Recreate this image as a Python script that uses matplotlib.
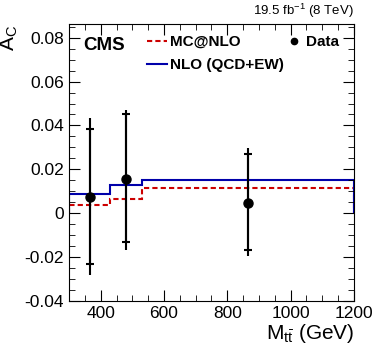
import numpy as np
import matplotlib.pyplot as plt
from matplotlib.ticker import MultipleLocator
from matplotlib.lines import Line2D

plt.rcParams['font.family'] = ['Liberation Sans', 'DejaVu Sans']
plt.rcParams['mathtext.fontset'] = 'custom'
plt.rcParams['mathtext.rm'] = 'Liberation Sans'
plt.rcParams['mathtext.it'] = 'Liberation Sans'

# data points
mass = [366, 481, 865]
ac = [0.0075, 0.0155, 0.0048]
stat_up = [0.0309, 0.0297, 0.0221]
stat_dn = [0.0306, 0.0284, 0.0215]
tot_up = [0.0360, 0.0315, 0.0248]
tot_dn = [0.0356, 0.0322, 0.0243]

# theory predictions (step histograms)
bin_edges = [300, 430, 530, 1200]
nlo = [0.0088, 0.0129, 0.0152]
mcatnlo = [0.0038, 0.0064, 0.0117]

fig = plt.figure(figsize=(3.74, 3.55), dpi=100)
ax = fig.add_axes([0.1845, 0.152, 0.762, 0.779])

ax.stairs(mcatnlo, bin_edges, color='#cc0000', linestyle=(0, (2.5, 1.5)), linewidth=1.5)
ax.stairs(nlo, bin_edges, color='#0000aa', linewidth=1.5)

ax.errorbar(mass, ac, yerr=[tot_dn, tot_up], fmt='none', ecolor='black', elinewidth=1.5, capsize=0)
ax.errorbar(mass, ac, yerr=[stat_dn, stat_up], fmt='o', color='black', markersize=6.5,
            elinewidth=1.5, capsize=3, capthick=1.5)

ax.set_xlim(300, 1200)
ax.set_ylim(-0.04, 0.086)
ax.xaxis.set_major_locator(MultipleLocator(200))
ax.xaxis.set_minor_locator(MultipleLocator(50))
ax.yaxis.set_major_locator(MultipleLocator(0.02))
ax.yaxis.set_minor_locator(MultipleLocator(0.005))
ax.tick_params(which='both', direction='in', top=True, right=True, labelsize=12.5)
ax.tick_params(which='major', length=8)
ax.tick_params(which='minor', length=4)
ax.set_yticks([-0.04, -0.02, 0, 0.02, 0.04, 0.06, 0.08])
ax.set_yticklabels(['-0.04', '-0.02', '0', '0.02', '0.04', '0.06', '0.08'])

ax.set_xlabel(r'M$_{\mathregular{t\bar{t}}}$ (GeV)', fontsize=15, loc='right', labelpad=1)
ax.set_ylabel(r'A$_{\mathregular{C}}$', fontsize=15, loc='top', labelpad=3)

ax.text(0.05, 0.955, 'CMS', transform=ax.transAxes, fontsize=13.5, fontweight='bold', va='top')
ax.text(1.0, 1.015, r'19.5 fb$^{\mathregular{-1}}$ (8 TeV)', transform=ax.transAxes,
        fontsize=9.5, ha='right', va='bottom')

leg_font = {'weight': 'bold', 'size': 11}
theory_handles = [
    Line2D([], [], color='#cc0000', linestyle=(0, (2.5, 1.5)), linewidth=1.5),
    Line2D([], [], color='#0000aa', linewidth=1.5),
]
leg1 = ax.legend(theory_handles, ['MC@NLO', 'NLO (QCD+EW)'], loc='upper left',
                 bbox_to_anchor=(0.235, 1.0), frameon=False, handlelength=1.3,
                 handletextpad=0.25, prop=leg_font, labelspacing=0.6, borderaxespad=0.3)
ax.add_artist(leg1)

data_handle = [Line2D([], [], color='black', marker='o', markersize=4.5, linestyle='none')]
ax.legend(data_handle, ['Data'], loc='upper right', bbox_to_anchor=(0.985, 1.0),
          frameon=False, handlelength=0.5, handletextpad=0.55, prop=leg_font,
          borderaxespad=0.3)

fig.savefig('out.png', dpi=100)
